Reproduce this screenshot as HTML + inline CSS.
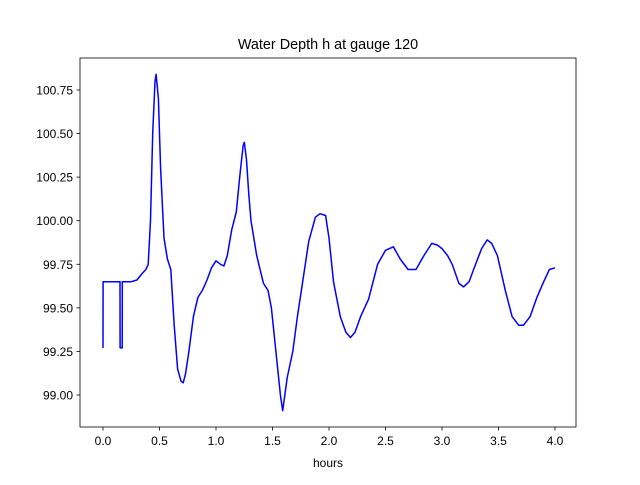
<!DOCTYPE html>
<html><head><meta charset="utf-8"><style>
body{margin:0;background:#fff;}
svg text{font-family:"Liberation Sans","DejaVu Sans",sans-serif;font-size:12px;fill:#000;}
</style></head><body>
<svg id="chart" width="640" height="480">
<rect width="640" height="480" fill="#fff"/>
<text x="328" y="49" text-anchor="middle" style="font-size:14.4px">Water Depth h at gauge 120</text>
<g id="ticks"></g>
<path id="line" fill="none" stroke="#0000ff" stroke-width="1.5" stroke-linejoin="round"/>
<rect x="80" y="58" width="496" height="369" fill="none" stroke="#000" stroke-width="0.8"/>
<text x="328" y="467" text-anchor="middle">hours</text>
</svg>
<script>
const hours=[0,0.001,0.01,0.15,0.151,0.17,0.171,0.18,0.25,0.3,0.35,0.38,0.40,0.42,0.44,0.46,0.47,0.49,0.51,0.54,0.57,0.6,0.63,0.66,0.69,0.71,0.73,0.76,0.8,0.84,0.88,0.92,0.96,1.0,1.04,1.07,1.1,1.14,1.18,1.21,1.24,1.25,1.27,1.29,1.31,1.36,1.42,1.46,1.49,1.53,1.57,1.59,1.63,1.68,1.72,1.76,1.82,1.88,1.92,1.97,2.0,2.04,2.1,2.15,2.19,2.23,2.28,2.35,2.43,2.5,2.57,2.63,2.7,2.77,2.84,2.91,2.96,3.0,3.05,3.09,3.15,3.19,3.24,3.28,3.35,3.4,3.44,3.49,3.56,3.62,3.68,3.72,3.78,3.84,3.9,3.95,4.0];
const depth=[99.27,99.65,99.65,99.65,99.27,99.27,99.65,99.65,99.65,99.66,99.70,99.72,99.75,100.0,100.5,100.8,100.84,100.7,100.3,99.9,99.78,99.72,99.4,99.15,99.08,99.07,99.12,99.25,99.45,99.56,99.6,99.66,99.73,99.77,99.75,99.74,99.8,99.95,100.05,100.25,100.43,100.45,100.35,100.15,100.0,99.8,99.64,99.6,99.5,99.25,99.0,98.91,99.1,99.25,99.45,99.62,99.88,100.02,100.04,100.03,99.9,99.65,99.45,99.36,99.33,99.36,99.45,99.55,99.75,99.83,99.85,99.78,99.72,99.72,99.8,99.87,99.86,99.84,99.8,99.75,99.64,99.62,99.65,99.72,99.84,99.89,99.87,99.8,99.6,99.45,99.40,99.40,99.45,99.56,99.65,99.72,99.73];
const xTicks=[0,0.5,1,1.5,2,2.5,3,3.5,4];
const xTickLabels=["0.0","0.5","1.0","1.5","2.0","2.5","3.0","3.5","4.0"];
const yTicks=[99,99.25,99.5,99.75,100,100.25,100.5,100.75];
const yTickLabels=["99.00","99.25","99.50","99.75","100.00","100.25","100.50","100.75"];
const X=v=>103+v*113;
const Y=v=>395-(v-99)*174.3;
const ns="http://www.w3.org/2000/svg";
const g=document.getElementById('ticks');
function mk(t,a){const e=document.createElementNS(ns,t);for(const k in a)e.setAttribute(k,a[k]);g.appendChild(e);return e;}
xTicks.forEach((v,i)=>{
 const l=mk('line',{x1:X(v),x2:X(v),y1:427,y2:430.5,stroke:'#000','stroke-width':0.8});
 
 
 const t=mk('text',{x:X(v),y:445,'text-anchor':'middle'});t.textContent=xTickLabels[i];
 
 
});
yTicks.forEach((v,i)=>{
 const l=mk('line',{x1:76.5,x2:80,y1:Y(v),y2:Y(v),stroke:'#000','stroke-width':0.8});
 
 
 const t=mk('text',{x:73,y:Y(v)+4.5,'text-anchor':'end'});t.textContent=yTickLabels[i];
 
 
});
document.getElementById('line').setAttribute('d',hours.map((h,i)=>(i?'L':'M')+X(h).toFixed(1)+','+Y(depth[i]).toFixed(1)).join(''));
</script>
</body></html>
